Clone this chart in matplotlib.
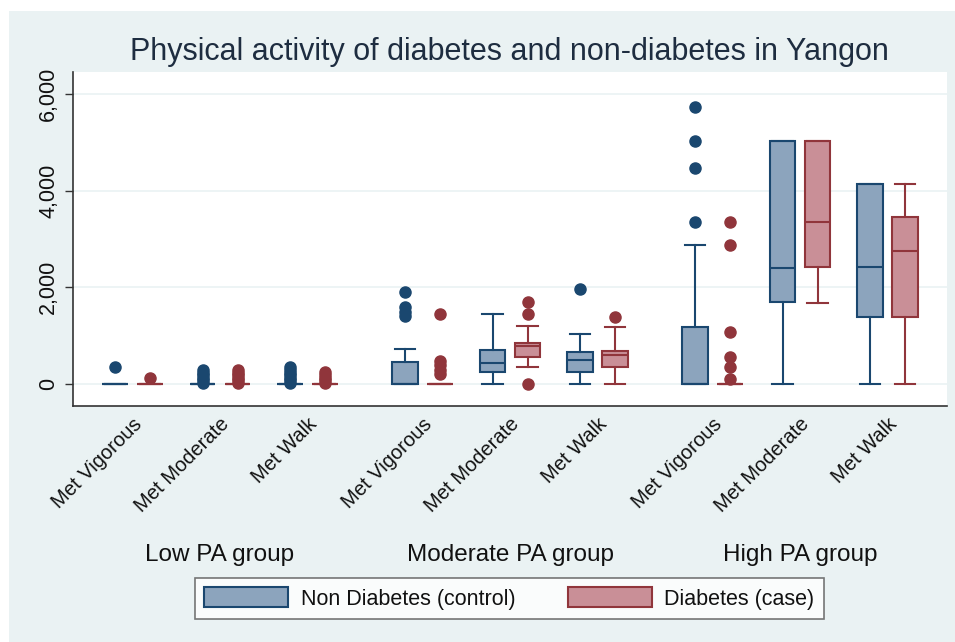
import matplotlib
matplotlib.use('Agg')
import matplotlib.pyplot as plt
from matplotlib.patches import Rectangle, Patch
from matplotlib.ticker import FuncFormatter

# categories and groups
categories = ['Met Vigorous', 'Met Moderate', 'Met Walk'] * 3
groups = ['Low PA group', 'Moderate PA group', 'High PA group']

# Non Diabetes (control) box stats
ctrl_whislo = [0, 0, 0, 0, 0, 0, 0, 0, 0]
ctrl_q1 = [0, 0, 0, 0, 240, 240, 0, 1700, 1395]
ctrl_med = [0, 0, 0, 0, 430, 500, 0, 2395, 2415]
ctrl_q3 = [0, 0, 0, 460, 700, 670, 1175, 5020, 4130]
ctrl_whishi = [0, 0, 0, 720, 1440, 1035, 2880, 5020, 4130]
ctrl_fliers = [[350],
               [30, 80, 130, 180, 230, 290],
               [30, 80, 130, 180, 230, 290, 350],
               [1400, 1500, 1600, 1910],
               [],
               [1970],
               [3345, 4465, 5030, 5730],
               [],
               []]

# Diabetes (case) box stats
case_whislo = [0, 0, 0, 0, 360, 0, 0, 1685, 0]
case_q1 = [0, 0, 0, 0, 565, 360, 0, 2415, 1395]
case_med = [0, 0, 0, 0, 785, 600, 0, 3345, 2760]
case_q3 = [0, 0, 0, 0, 840, 690, 0, 5020, 3445]
case_whishi = [0, 0, 0, 0, 1200, 1175, 0, 5020, 4140]
case_fliers = [[125],
               [30, 80, 130, 180, 230, 280],
               [30, 80, 130, 180, 250],
               [200, 300, 400, 480, 1440],
               [0, 1450, 1700],
               [1395],
               [100, 345, 565, 1085, 2880, 3345],
               [],
               []]

yticks = [0, 2000, 4000, 6000]

navy = '#1a476f'
maroon = '#90353b'
navy_fill = '#8ca4bd'
maroon_fill = '#c98f97'
bg = '#eaf2f3'

W, H = 955, 642
fig = plt.figure(figsize=(W / 100, H / 100), dpi=100)
fig.patch.set_facecolor('white')
fig.patches.append(Rectangle((9 / W, 0), 1, 1 - 11 / H, transform=fig.transFigure,
                             facecolor=bg, edgecolor='none', zorder=-10))
plt.rcParams['font.family'] = ['Liberation Sans', 'DejaVu Sans']

ax = fig.add_axes([73 / W, 1 - 406 / H, (947 - 73) / W, (406 - 72) / H])
ax.set_facecolor('white')

group_step = 2 + 115 / 87.5
centers = [g * group_step + c for g in range(3) for c in range(3)]
off = 0.2


def make_stats(lo, q1, med, q3, hi, fl):
    return [dict(whislo=lo[i], q1=q1[i], med=med[i], q3=q3[i], whishi=hi[i], fliers=fl[i])
            for i in range(len(lo))]


def draw(stats, pos, edge, fill):
    ax.bxp(stats, positions=pos, widths=0.29, patch_artist=True, showcaps=True,
           capwidths=0.23,
           boxprops=dict(facecolor=fill, edgecolor=edge, linewidth=1.5),
           medianprops=dict(color=edge, linewidth=1.5),
           whiskerprops=dict(color=edge, linewidth=1.5),
           capprops=dict(color=edge, linewidth=1.5),
           flierprops=dict(marker='o', markerfacecolor=edge, markeredgecolor=edge,
                           markersize=8, linestyle='none'))


draw(make_stats(ctrl_whislo, ctrl_q1, ctrl_med, ctrl_q3, ctrl_whishi, ctrl_fliers),
     [c - off for c in centers], navy, navy_fill)
draw(make_stats(case_whislo, case_q1, case_med, case_q3, case_whishi, case_fliers),
     [c + off for c in centers], maroon, maroon_fill)

ax.set_xlim(-0.68, 2 * group_step + 2 + 0.68)
ax.set_ylim(-455, 6455)
ax.set_xticks(centers)
ax.set_xticklabels(categories, rotation=45, ha='right', va='top',
                   rotation_mode='anchor', fontsize=14.5, color='#111111')
ax.tick_params(axis='x', length=0, pad=6)
ax.set_yticks(yticks)
ax.yaxis.set_major_formatter(FuncFormatter(lambda v, p: f'{int(v):,}'))
ax.tick_params(axis='y', length=6, width=1, color='#333333', labelsize=15.5,
               labelcolor='#111111', pad=4)
for lab in ax.get_yticklabels():
    lab.set_rotation(90)
    lab.set_va('center')
ax.yaxis.grid(True, color=bg, linewidth=1.2)
ax.set_axisbelow(True)
for s in ['top', 'right']:
    ax.spines[s].set_visible(False)
for s in ['left', 'bottom']:
    ax.spines[s].set_color('#333333')
    ax.spines[s].set_linewidth(1.2)

fig.text(509 / W, 1 - 52 / H, 'Physical activity of diabetes and non-diabetes in Yangon',
         ha='center', va='center', fontsize=22, color='#1e2d40')

for g, name in enumerate(groups):
    x = (g * group_step + 1 - ax.get_xlim()[0]) / (ax.get_xlim()[1] - ax.get_xlim()[0])
    fig.text((73 + x * (947 - 73)) / W, 1 - 555 / H, name, ha='center', va='center',
             fontsize=17.5, color='#111111')

handles = [Patch(facecolor=navy_fill, edgecolor=navy, linewidth=1.5, label='Non Diabetes (control)'),
           Patch(facecolor=maroon_fill, edgecolor=maroon, linewidth=1.5, label='Diabetes (case)')]
leg = fig.legend(handles=handles, loc='center', bbox_to_anchor=(509.5 / W, 1 - 598.5 / H),
                 ncol=2, fontsize=15.5, frameon=True, fancybox=False, handlelength=3.9,
                 handleheight=1.0, columnspacing=2.4, handletextpad=0.6, borderpad=0.45)
leg.get_frame().set_edgecolor('#555555')
leg.get_frame().set_linewidth(1.2)
for t in leg.get_texts():
    t.set_color('#111111')

fig.savefig('out.png', dpi=100)
